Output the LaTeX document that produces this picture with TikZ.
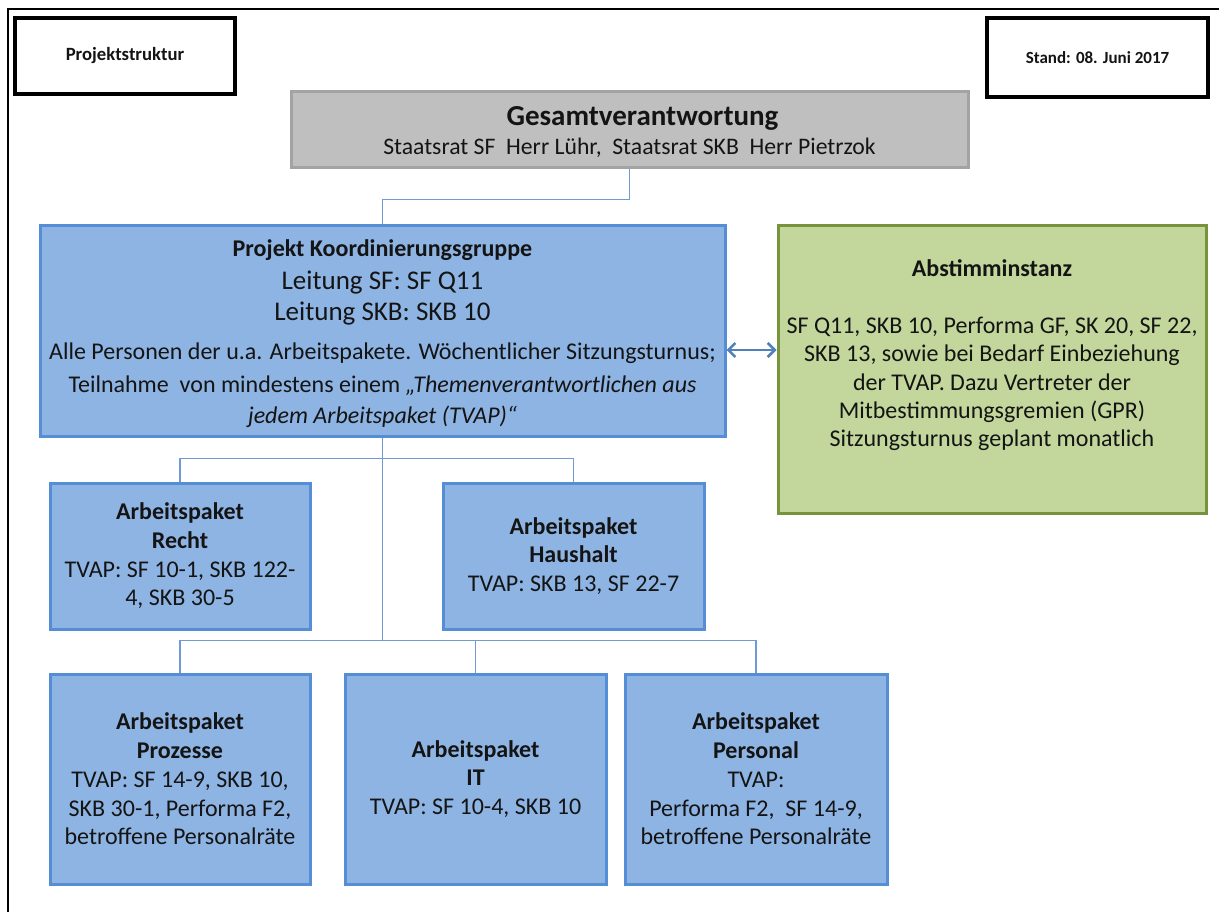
\documentclass[tikz,border=0pt]{standalone}
\usepackage{fontspec}
\setmainfont{Carlito}
\usetikzlibrary{arrows.meta}
\definecolor{bfill}{HTML}{8EB4E3}
\definecolor{bline}{HTML}{558ED5}
\definecolor{gfill}{HTML}{C3D69B}
\definecolor{gline}{HTML}{77933C}
\definecolor{grfill}{HTML}{BFBFBF}
\definecolor{grline}{HTML}{A3A3A3}
\definecolor{conncol}{HTML}{7199D2}
\definecolor{arrcol}{HTML}{4F81BD}
\definecolor{txt}{HTML}{141414}
\begin{document}
\begin{tikzpicture}[x=1pt,y=-1pt,
  hdrbox/.style={draw=black, line width=3.5pt, fill=white, inner sep=0pt, text=txt},
  bluebox/.style={draw=bline, fill=bfill, line width=3pt, inner sep=0pt, align=center,
    text=txt, font=\fontsize{24}{28.7}\selectfont},
  greenbox/.style={draw=gline, fill=gfill, line width=3pt, inner sep=0pt},
  graybox/.style={draw=grline, fill=grfill, line width=3pt, inner sep=0pt},
  txtblock/.style={inner sep=0pt, align=center, text=txt, font=\fontsize{24}{28.3}\selectfont},
  conn/.style={draw=conncol, line width=1.5pt},
  biarrow/.style={draw=arrcol, line width=2.5pt, {Straight Barb[length=7pt,width=14pt]}-{Straight Barb[length=7pt,width=14pt]}}
]
\useasboundingbox (0,0) rectangle (1219,912);
\fill[white] (0,0) rectangle (1219,912);
% page frame (top and left edges)
\draw[line width=2pt, black] (8,912) -- (8,9) -- (1219,9);

% header boxes
\node[hdrbox, minimum width=220pt, minimum height=76pt, font=\bfseries\fontsize{18.7}{22}\selectfont] (proj) at (125,56) {Projektstruktur};
\node[hdrbox, minimum width=221pt, minimum height=79pt, font=\bfseries\fontsize{17}{21}\selectfont] (stand) at (1097.5,57.5) {Stand: 08. Juni 2017};

% top box
\node[graybox, minimum width=677pt, minimum height=76pt] (gesamt) at (629.5,130) {};
\node[txtblock, font=\fontsize{23.7}{29}\selectfont] (gesamttxt) at ([yshift=-2pt]gesamt.center)
  {{\bfseries\fontsize{29}{29}\selectfont \hspace*{26pt}Gesamtverantwortung}\\Staatsrat SF\ \ Herr Lühr,\ \ Staatsrat SKB\ \ Herr Pietrzok};

% coordination group
\node[bluebox, minimum width=685pt, minimum height=210pt] (pkg) at (382.5,331) {};
\node[txtblock, font=\fontsize{24}{31}\selectfont] (pkgtxt) at ([yshift=-3pt]pkg.center)
  {\textbf{Projekt Koordinierungsgruppe}\\[2pt]
   {\fontsize{27}{31}\selectfont Leitung SF: SF Q11}\\
   {\fontsize{27}{31}\selectfont Leitung SKB: SKB 10}\\[8pt]
   Alle Personen der u.a. Arbeitspakete. Wöchentlicher Sitzungsturnus;\\[2pt]
   Teilnahme\ \ von mindestens einem \textit{„Themenverantwortlichen aus}\\
   \textit{jedem Arbeitspaket (TVAP)“}};

% Abstimminstanz
\node[greenbox, minimum width=428pt, minimum height=287pt] (abst) at (992,369.5) {};
\node[txtblock] (absttxt) at ([yshift=14pt]abst.center)
  {\textbf{Abstimminstanz}\\[28.3pt]
   SF Q11, SKB 10, Performa GF, SK 20, SF 22,\\
   SKB 13, sowie bei Bedarf Einbeziehung\\
   der TVAP. Dazu Vertreter der\\
   Mitbestimmungsgremien (GPR)\\
   Sitzungsturnus geplant monatlich};

% work packages row 1
\node[bluebox, minimum width=260pt, minimum height=146pt] (recht) at (180,556)
  {\textbf{Arbeitspaket}\\\textbf{Recht}\\TVAP: SF 10-1, SKB 122-\\4, SKB 30-5};
\node[bluebox, minimum width=261pt, minimum height=146pt] (haushalt) at (573.5,556)
  {\textbf{Arbeitspaket}\\\textbf{Haushalt}\\TVAP: SKB 13, SF 22-7};

% work packages row 2
\node[bluebox, minimum width=260pt, minimum height=210pt] (prozesse) at (180,779)
  {\textbf{Arbeitspaket}\\\textbf{Prozesse}\\TVAP: SF 14-9, SKB 10,\\SKB 30-1, Performa F2,\\betroffene Personalräte};
\node[bluebox, minimum width=261pt, minimum height=210pt] (it) at (475.5,779)
  {\textbf{Arbeitspaket}\\\textbf{IT}\\TVAP: SF 10-4, SKB 10};
\node[bluebox, minimum width=262pt, minimum height=210pt] (personal) at (756,779)
  {\textbf{Arbeitspaket}\\\textbf{Personal}\\TVAP:\\Performa F2,\ \ SF 14-9,\\betroffene Personalräte};

% connectors
\draw[conn] (gesamt.south) -- ++(0,30) -| (pkg.north);
\path (recht.north) ++(0,-23) coordinate (upbus);
\path (prozesse.north) ++(0,-32) coordinate (lowbus);
\draw[conn] (pkg.south) -- (pkg.south |- lowbus);
\draw[conn] (recht.north) -- (upbus) -| (haushalt.north);
\draw[conn] (prozesse.north) -- (lowbus) -| (personal.north);
\draw[conn] (it.north) -- (it.north |- lowbus);

% bidirectional arrow
\draw[biarrow] ([yshift=-19pt]pkg.east) -- ([yshift=-19pt]pkg.east -| abst.west);
\end{tikzpicture}
\end{document}
